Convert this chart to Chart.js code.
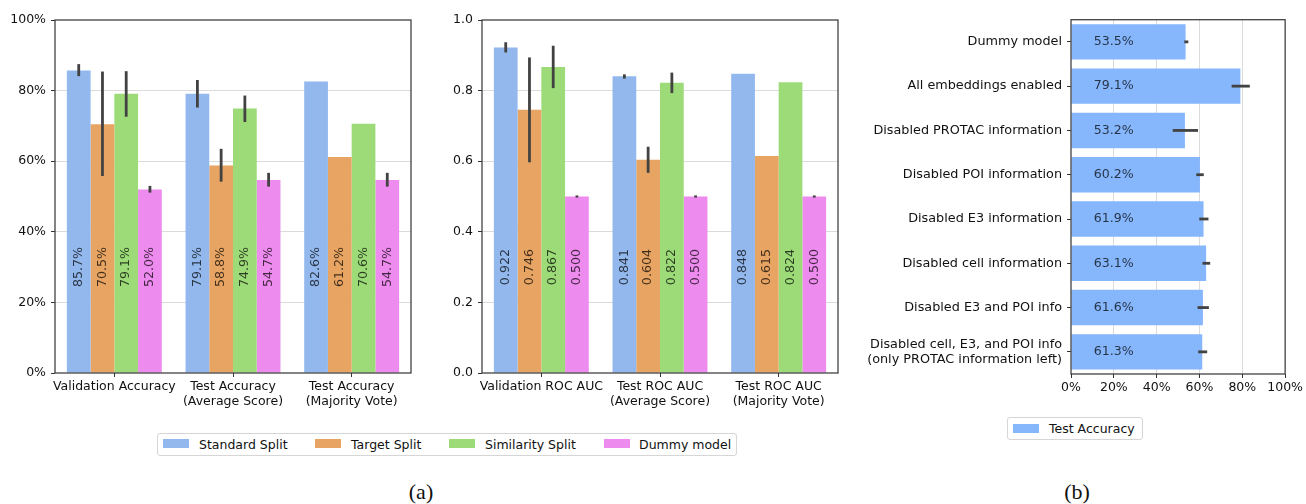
<!DOCTYPE html>
<html>
<head>
<meta charset="utf-8">
<script src="https://cdn.jsdelivr.net/npm/chart.js@4.4.1/dist/chart.umd.min.js"></script>
<style>
html, body { margin: 0; padding: 0; background: #fff; }
#wrap { position: relative; width: 1306px; height: 504px; overflow: hidden; font-family: "DejaVu Sans", sans-serif; color: #111; }
canvas { position: absolute; top: 0; }
.legend { position: absolute; border: 1px solid #d6d6d6; border-radius: 3px; box-sizing: border-box; background: #fff; }
.sw { position: absolute; width: 26px; height: 9px; }
.lt { position: absolute; font-size: 12.5px; line-height: 14px; white-space: nowrap; }
.cap { position: absolute; font-family: "Liberation Serif", "DejaVu Serif", serif; font-size: 22px; line-height: 24px; transform: translateX(-50%); }
</style>
</head>
<body>
<div id="wrap">
  <canvas id="accChart" width="420" height="420" style="left:0px"></canvas>
  <canvas id="aucChart" width="420" height="420" style="left:420px"></canvas>
  <canvas id="ablChart" width="466" height="420" style="left:840px"></canvas>

  <div class="legend" style="left:157px; top:433px; width:580px; height:23px;">
    <div class="sw" style="left:5px; top:5px; background:#92b8ed"></div><div class="lt" style="left:41px; top:4px;">Standard Split</div>
    <div class="sw" style="left:157px; top:5px; background:#e8a462"></div><div class="lt" style="left:193px; top:4px;">Target Split</div>
    <div class="sw" style="left:291px; top:5px; background:#9cdb78"></div><div class="lt" style="left:327px; top:4px;">Similarity Split</div>
    <div class="sw" style="left:446px; top:5px; background:#ee8bee"></div><div class="lt" style="left:481px; top:4px;">Dummy model</div>
  </div>
  <div class="legend" style="left:1007px; top:417px; width:136px; height:23px;">
    <div class="sw" style="left:5px; top:6px; background:#86b6fc"></div><div class="lt" style="left:41px; top:4px;">Test Accuracy</div>
  </div>
  <div class="cap" style="left:421px; top:480px;">(a)</div>
  <div class="cap" style="left:1077px; top:480px;">(b)</div>
</div>

<script>
// categories
const accCategories = ['Validation Accuracy', ['Test Accuracy', '(Average Score)'], ['Test Accuracy', '(Majority Vote)']];
const aucCategories = ['Validation ROC AUC', ['Test ROC AUC', '(Average Score)'], ['Test ROC AUC', '(Majority Vote)']];
const seriesNames = ['Standard Split', 'Target Split', 'Similarity Split', 'Dummy model'];
const ablationCategories = [
    'Dummy model',
    'All embeddings enabled',
    'Disabled PROTAC information',
    'Disabled POI information',
    'Disabled E3 information',
    'Disabled cell information',
    'Disabled E3 and POI info',
    ['Disabled cell, E3, and POI info', '(only PROTAC information left)']
];

// accuracy (%)
const accStandard = [85.7, 79.1, 82.6];
const accTarget = [70.5, 58.8, 61.2];
const accSimilarity = [79.1, 74.9, 70.6];
const accDummy = [52.0, 54.7, 54.7];
const accStandardErr = [[84.1, 87.5], [75.2, 83.0], null];
const accTargetErr = [[55.8, 85.4], [54.2, 63.5], null];
const accSimilarityErr = [[72.6, 85.5], [71.1, 78.6], null];
const accDummyErr = [[51.1, 53.0], [52.8, 56.7], [52.8, 56.7]];

// ROC AUC
const aucStandard = [0.922, 0.841, 0.848];
const aucTarget = [0.746, 0.604, 0.615];
const aucSimilarity = [0.867, 0.822, 0.824];
const aucDummy = [0.500, 0.500, 0.500];
const aucStandardErr = [[0.908, 0.937], [0.834, 0.846], null];
const aucTargetErr = [[0.597, 0.894], [0.567, 0.641], null];
const aucSimilarityErr = [[0.807, 0.927], [0.793, 0.851], null];
const aucDummyErr = [[0.497, 0.503], [0.497, 0.503], [0.497, 0.503]];

// ablation test accuracy (%)
const ablationAcc = [53.5, 79.1, 53.2, 60.2, 61.9, 63.1, 61.6, 61.3];
const ablationErr = [[52.9, 54.8], [75.0, 83.5], [47.5, 59.3], [58.5, 62.0], [59.9, 64.2], [61.4, 65.0], [59.1, 64.4], [59.4, 63.6]];

// ticks
const percentTicks = [0, 20, 40, 60, 80, 100];
const aucTicks = [0, 0.2, 0.4, 0.6, 0.8, 1.0];

const seriesColors = ['#92b8ed', '#e8a462', '#9cdb78', '#ee8bee'];
const ablationColor = '#86b6fc';

const FONT = { family: 'DejaVu Sans', size: 12.5, lineHeight: 1.15 };
const TEXT = '#111';
const GRID = 'rgba(175,175,175,0.45)';
const SPINE = '#333';

// error bars drawn from the value scale
function errorBarPlugin(horizontal) {
    return {
        id: 'errorBars',
        afterDraw(chart) {
            const ctx = chart.ctx;
            const vScale = horizontal ? chart.scales.x : chart.scales.y;
            ctx.save();
            ctx.strokeStyle = '#424242';
            ctx.lineWidth = 2.8;
            chart.data.datasets.forEach((ds, i) => {
                const meta = chart.getDatasetMeta(i);
                (ds.errors || []).forEach((e, j) => {
                    if (!e) return;
                    const bar = meta.data[j];
                    const a = vScale.getPixelForValue(e[0]);
                    const b = vScale.getPixelForValue(e[1]);
                    ctx.beginPath();
                    if (horizontal) {
                        ctx.moveTo(a, bar.y);
                        ctx.lineTo(b, bar.y);
                    } else {
                        ctx.moveTo(bar.x, a);
                        ctx.lineTo(bar.x, b);
                    }
                    ctx.stroke();
                });
            });
            ctx.restore();
        }
    };
}

// value text inside each bar
function valueLabelPlugin(horizontal, at, fmt) {
    return {
        id: 'valueLabels',
        afterDraw(chart) {
            const ctx = chart.ctx;
            const vScale = horizontal ? chart.scales.x : chart.scales.y;
            ctx.save();
            ctx.font = '12.6px "DejaVu Sans"';
            ctx.fillStyle = 'rgba(0,0,0,0.72)';
            ctx.textAlign = 'center';
            ctx.textBaseline = 'middle';
            chart.data.datasets.forEach((ds, i) => {
                const meta = chart.getDatasetMeta(i);
                ds.data.forEach((v, j) => {
                    const bar = meta.data[j];
                    const p = vScale.getPixelForValue(at);
                    if (horizontal) {
                        ctx.fillText(fmt(v), p, bar.y);
                    } else {
                        ctx.save();
                        ctx.translate(bar.x, p);
                        ctx.rotate(-Math.PI / 2);
                        ctx.fillText(fmt(v), 0, 0);
                        ctx.restore();
                    }
                });
            });
            ctx.restore();
        }
    };
}

const framePlugin = {
    id: 'frame',
    afterDraw(chart) {
        const a = chart.chartArea;
        const ctx = chart.ctx;
        ctx.save();
        ctx.strokeStyle = SPINE;
        ctx.lineWidth = 1.2;
        ctx.strokeRect(a.left, a.top, a.right - a.left, a.bottom - a.top);
        ctx.restore();
    }
};

function edgeHidden(min, max) {
    return ctx => (ctx.tick && (ctx.tick.value === min || ctx.tick.value === max)) ? 'rgba(0,0,0,0)' : GRID;
}

function groupedChart(id, categories, values, errors, ticks, tickFmt, labelFmt, labelAt, yWidth, rightPad) {
    const el = document.getElementById(id);
    const datasets = seriesNames.map((name, i) => ({
        label: name,
        data: values[i],
        errors: errors[i],
        backgroundColor: seriesColors[i],
        borderWidth: 0,
        barPercentage: 1.0,
        categoryPercentage: 0.8
    }));
    const max = ticks[ticks.length - 1];
    new Chart(el, {
        type: 'bar',
        data: { labels: categories, datasets: datasets },
        options: {
            responsive: false,
            animation: false,
            layout: { padding: { top: 20, right: rightPad, left: 0, bottom: 0 } },
            plugins: { legend: { display: false }, tooltip: { enabled: false } },
            scales: {
                x: {
                    grid: { drawOnChartArea: false, offset: false, tickColor: SPINE, tickLength: 4 },
                    border: { display: false },
                    ticks: { font: FONT, color: TEXT, padding: 3, maxRotation: 0, autoSkip: false },
                    afterFit: s => { s.height = 47; }
                },
                y: {
                    min: 0,
                    max: max,
                    z: 1,
                    afterBuildTicks: s => { s.ticks = ticks.map(v => ({ value: v })); },
                    grid: { color: edgeHidden(0, max), tickColor: SPINE, tickLength: 4 },
                    border: { display: false },
                    ticks: { font: FONT, color: TEXT, padding: 5, callback: tickFmt },
                    afterFit: s => { s.width = yWidth; }
                }
            }
        },
        plugins: [errorBarPlugin(false), valueLabelPlugin(false, labelAt, labelFmt), framePlugin]
    });
}

groupedChart('accChart', accCategories,
    [accStandard, accTarget, accSimilarity, accDummy],
    [accStandardErr, accTargetErr, accSimilarityErr, accDummyErr],
    percentTicks, v => v + '%', v => v.toFixed(1) + '%', 30, 55, 9);

groupedChart('aucChart', aucCategories,
    [aucStandard, aucTarget, aucSimilarity, aucDummy],
    [aucStandardErr, aucTargetErr, aucSimilarityErr, aucDummyErr],
    aucTicks, v => v.toFixed(1), v => v.toFixed(3), 0.3, 62, 2);

new Chart(document.getElementById('ablChart'), {
    type: 'bar',
    data: {
        labels: ablationCategories,
        datasets: [{
            label: 'Test Accuracy',
            data: ablationAcc,
            errors: ablationErr,
            backgroundColor: ablationColor,
            borderWidth: 0,
            barPercentage: 1.0,
            categoryPercentage: 0.8
        }]
    },
    options: {
        indexAxis: 'y',
        responsive: false,
        animation: false,
        layout: { padding: { top: 16, right: 19, left: 0, bottom: 0 } },
        plugins: { legend: { display: false }, tooltip: { enabled: false } },
        scales: {
            x: {
                min: 0,
                max: 100,
                z: 1,
                afterBuildTicks: s => { s.ticks = percentTicks.map(v => ({ value: v })); },
                grid: { color: edgeHidden(0, 100), tickColor: SPINE, tickLength: 4 },
                border: { display: false },
                ticks: { font: FONT, color: TEXT, padding: 3, callback: v => v + '%' },
                afterFit: s => { s.height = 46; }
            },
            y: {
                grid: { drawOnChartArea: false, offset: false, tickColor: SPINE, tickLength: 4 },
                border: { display: false },
                ticks: { font: { family: 'DejaVu Sans', size: 12.8, lineHeight: 1.15 }, color: TEXT, padding: 5, autoSkip: false },
                afterFit: s => { s.width = 231; }
            }
        }
    },
    plugins: [errorBarPlugin(true), valueLabelPlugin(true, 20, v => v.toFixed(1) + '%'), framePlugin]
});
</script>
</body>
</html>
